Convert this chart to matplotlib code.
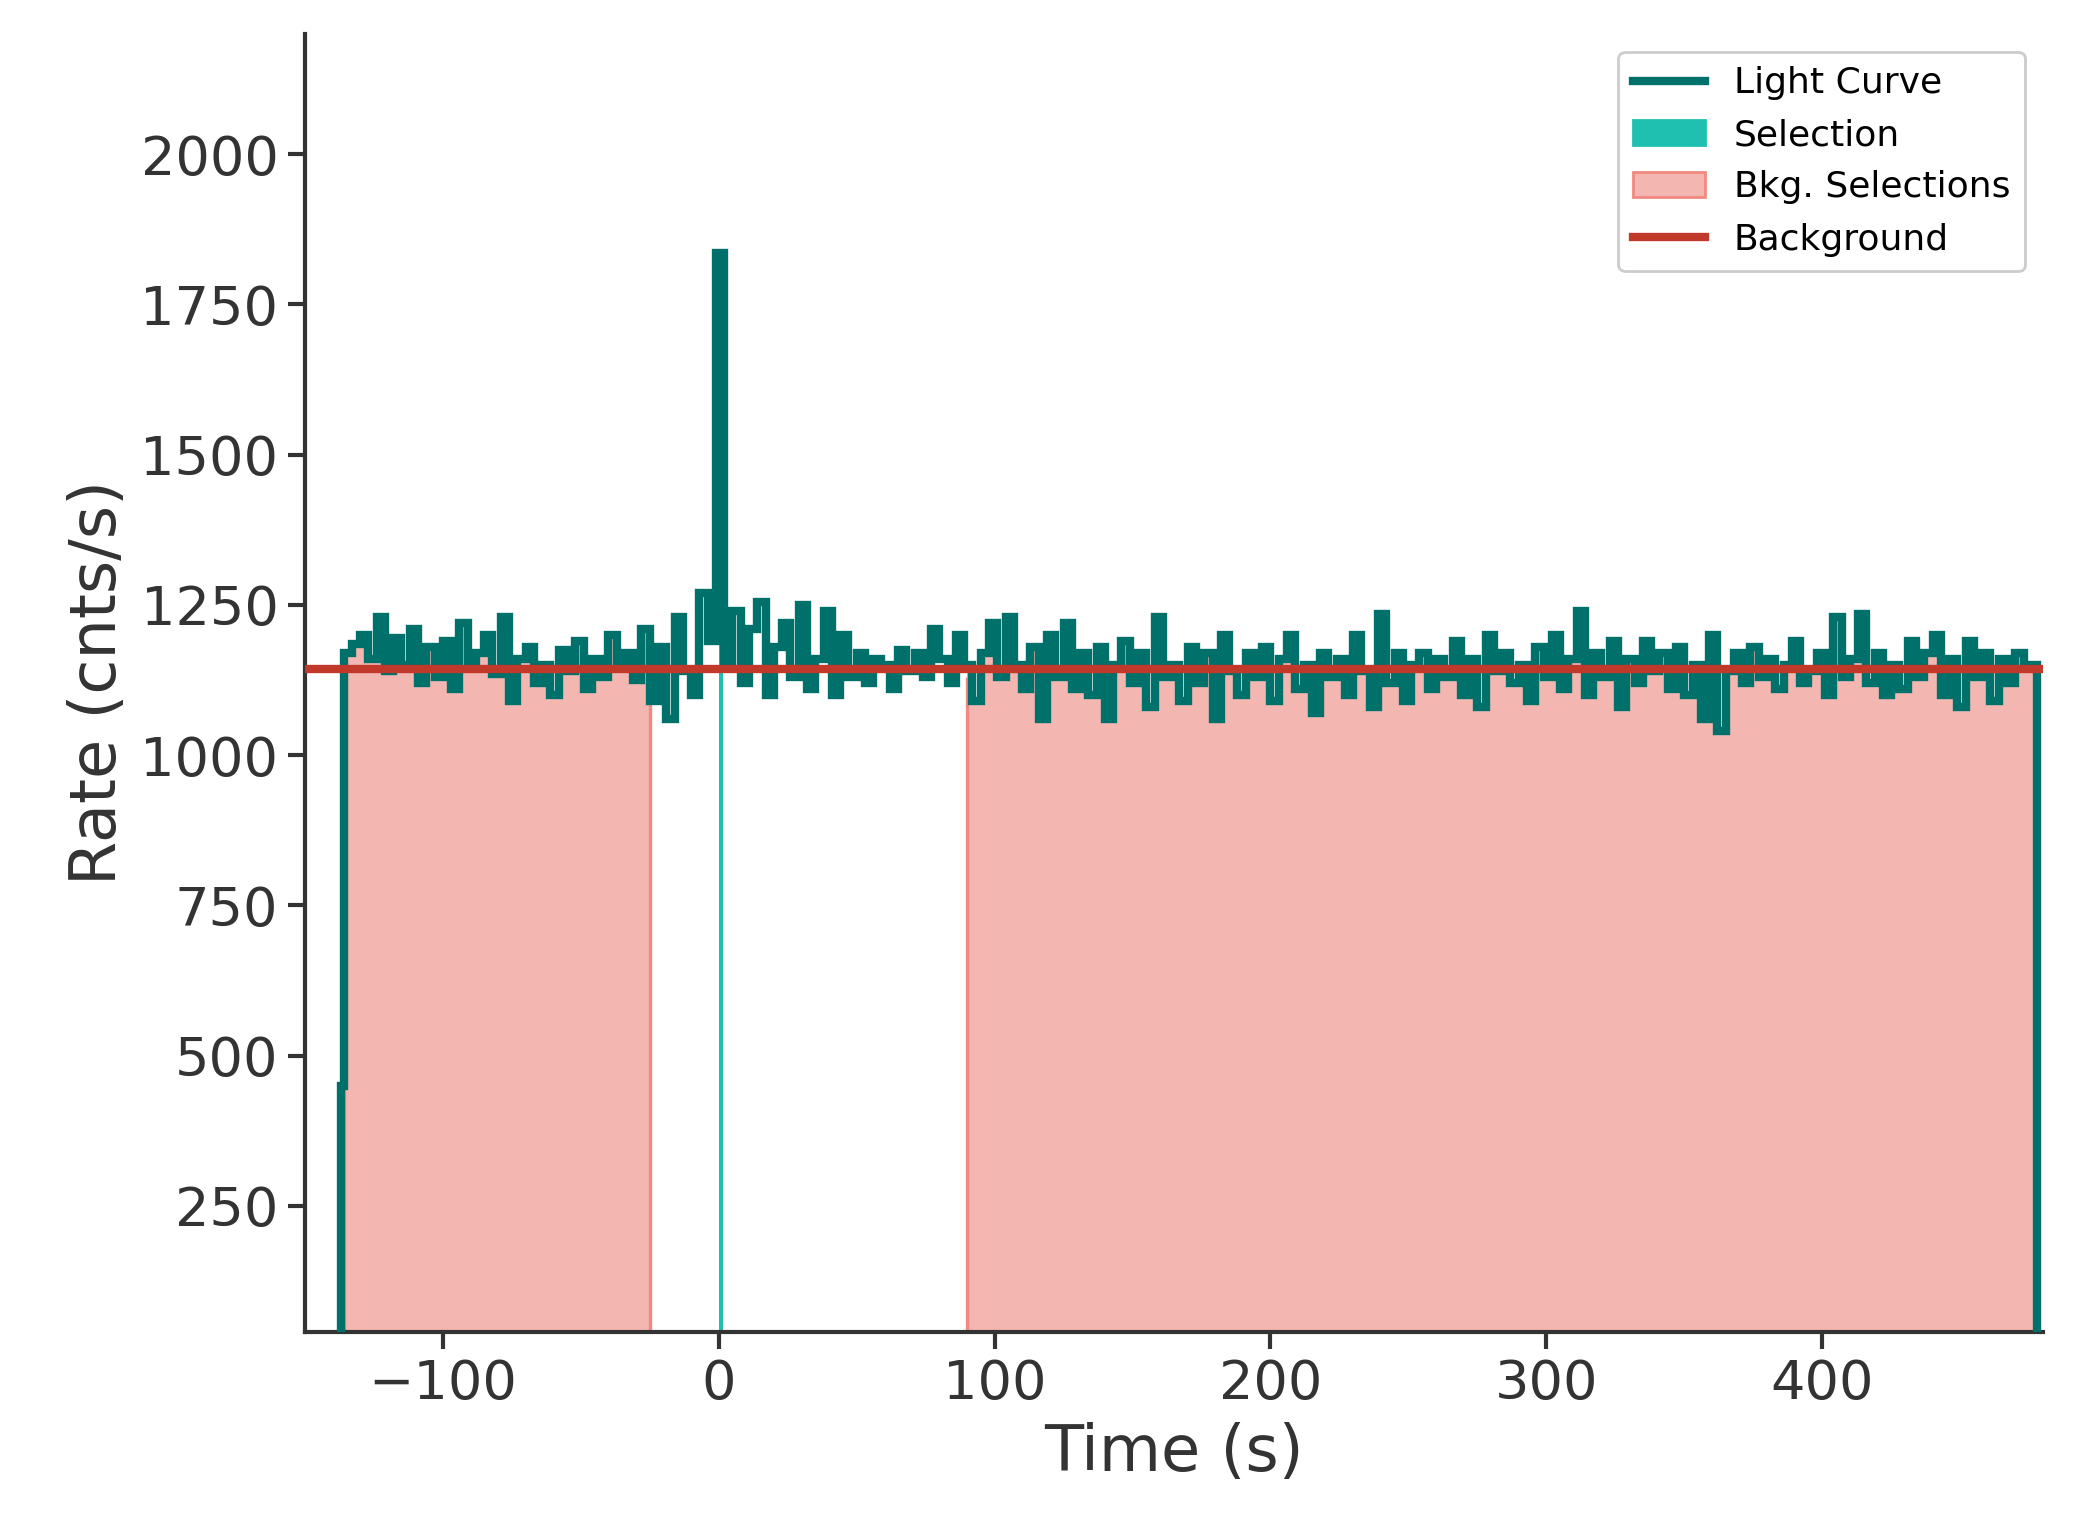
import numpy as np
import matplotlib.pyplot as plt
from matplotlib.lines import Line2D
from matplotlib.patches import Patch

# light curve, 3 s bins starting at -136 s (plus a partial first bin)
bin_start = -136.0
bin_width = 3.0
rates = [
    1170, 1185, 1200, 1160, 1230, 1140, 1195, 1150, 1210, 1120,
    1180, 1130, 1190, 1110, 1220, 1150, 1170, 1200, 1135, 1230,
    1090, 1160, 1180, 1120, 1150, 1100, 1175, 1140, 1190, 1110,
    1160, 1130, 1200, 1150, 1170, 1125, 1210, 1090, 1180, 1060,
    1230, 1140, 1100, 1270, 1190, 1835, 1150, 1240, 1120, 1210,
    1255, 1100, 1180, 1220, 1130, 1250, 1110, 1160, 1240, 1100,
    1200, 1130, 1170, 1120, 1160, 1150, 1110, 1175, 1140, 1170,
    1130, 1210, 1160, 1120, 1200, 1150, 1090, 1170, 1220, 1130,
    1230, 1150, 1110, 1180, 1060, 1200, 1130, 1220, 1110, 1170,
    1100, 1180, 1060, 1150, 1190, 1120, 1170, 1080, 1230, 1130,
    1150, 1090, 1180, 1120, 1170, 1060, 1200, 1140, 1100, 1170,
    1130, 1180, 1090, 1160, 1200, 1110, 1150, 1070, 1170, 1130,
    1160, 1100, 1200, 1140, 1080, 1235, 1120, 1170, 1090, 1150,
    1170, 1110, 1160, 1130, 1190, 1100, 1160, 1080, 1200, 1140,
    1170, 1120, 1150, 1090, 1180, 1130, 1200, 1110, 1160, 1240,
    1100, 1170, 1130, 1190, 1080, 1160, 1120, 1190, 1140, 1170,
    1110, 1180, 1100, 1150, 1060, 1200, 1040, 1140, 1170, 1120,
    1180, 1130, 1160, 1110, 1150, 1190, 1120, 1140, 1170, 1100,
    1230, 1130, 1160, 1235, 1120, 1170, 1100, 1150, 1110, 1190,
    1130, 1170, 1200, 1100, 1160, 1080, 1190, 1130, 1170, 1090,
    1160, 1120, 1170, 1150,
]
first_partial = (-137.0, 450)
end_time = 478.0

selection = (0.0, 1.5)
bkg_selections = [(-136.0, -25.0), (90.0, 478.0)]
bkg_level = 1143

edges = np.array([first_partial[0]] + list(bin_start + bin_width * np.arange(len(rates))) + [end_time])
vals = np.array([first_partial[1]] + rates)


def fill_range(ax, lo, hi, **kw):
    # fill under the light curve between lo and hi
    e = np.clip(edges, lo, hi)
    keep = e[1:] > e[:-1]
    sub_e = np.append(e[:-1][keep], e[1:][keep][-1])
    ax.stairs(vals[keep], sub_e, baseline=0, fill=True, **kw)


fig = plt.figure(figsize=(10.37, 7.7), dpi=200)
ax = fig.add_axes([0.147, 0.135, 0.838, 0.843])
c_text = "#333333"

for lo, hi in bkg_selections:
    fill_range(ax, lo, hi, color="#F4B6B0", zorder=1)
    ax.vlines([lo, hi], 0, [np.interp(lo, edges[:-1], vals), np.interp(hi, edges[:-1], vals)],
              color="#F08A80", lw=1.2, zorder=1)
fill_range(ax, *selection, color="#20C0B0", zorder=2)
ax.stairs(vals, edges, baseline=0, color="#00706A", lw=3, zorder=3)
ax.axhline(bkg_level, color="#C0392B", lw=3, zorder=4)

handles = [
    Line2D([], [], color="#00706A", lw=3),
    Patch(color="#20C0B0"),
    Patch(fc="#F4B6B0", ec="#F08A80"),
    Line2D([], [], color="#C0392B", lw=3),
]
ax.legend(handles, ["Light Curve", "Selection", "Bkg. Selections", "Background"],
          loc="upper right", fontsize=13, framealpha=1, edgecolor="#cccccc")

ax.set_xlim(-150, 480)
ax.set_ylim(40, 2200)
ax.set_yticks([250, 500, 750, 1000, 1250, 1500, 1750, 2000])
ax.set_xlabel("Time (s)", fontsize=23, color=c_text)
ax.set_ylabel("Rate (cnts/s)", fontsize=23, color=c_text)
ax.tick_params(labelsize=19.5, colors=c_text, width=1.5, length=6)
for s in ["top", "right"]:
    ax.spines[s].set_visible(False)
for s in ["left", "bottom"]:
    ax.spines[s].set_color(c_text)
    ax.spines[s].set_linewidth(1.5)

fig.savefig("out.png")
